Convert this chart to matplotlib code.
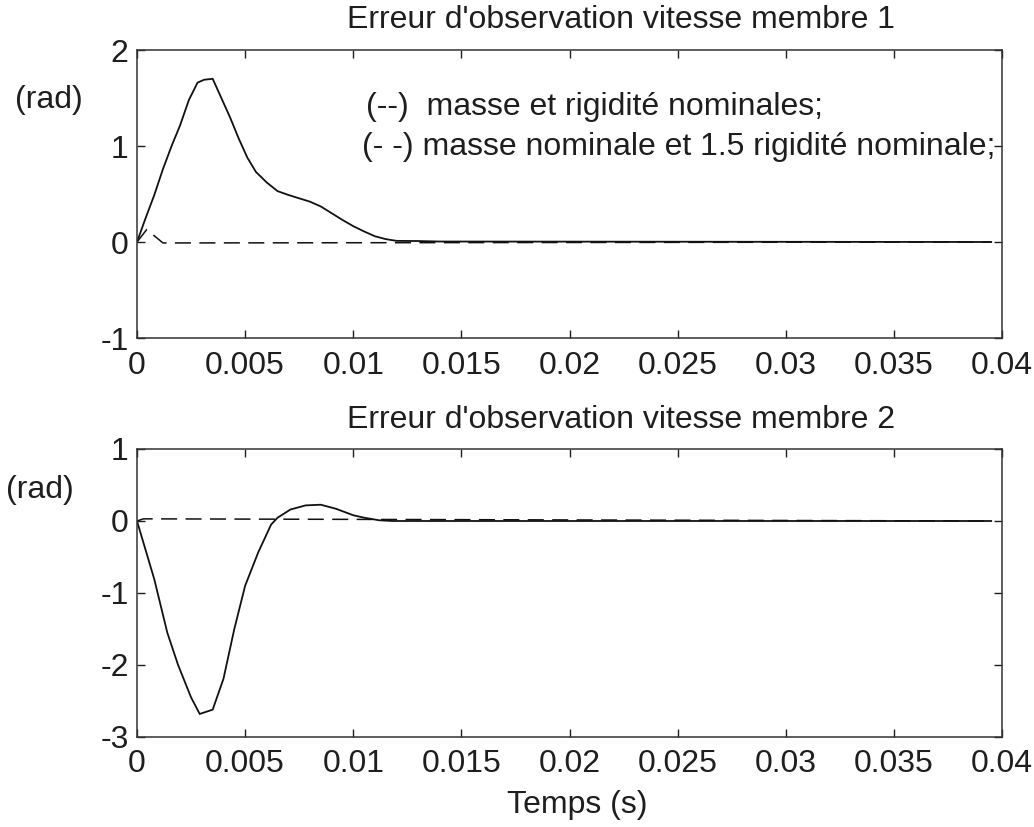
import matplotlib
matplotlib.use("Agg")
import matplotlib.pyplot as plt

plt.rcParams['font.family'] = ['Liberation Sans', 'DejaVu Sans']
plt.rcParams['axes.unicode_minus'] = False

# ---- data ----
t1_solid = [0, 0.0004, 0.0008, 0.0012, 0.0016, 0.002, 0.0024, 0.0028, 0.0031, 0.0035,
            0.0039, 0.0043, 0.0047, 0.0051, 0.0055, 0.006, 0.0065, 0.007, 0.0075, 0.008,
            0.0085, 0.009, 0.0095, 0.01, 0.0105, 0.011, 0.0115, 0.012, 0.013, 0.014, 0.0395]
v1_solid = [0, 0.25, 0.49, 0.76, 1.0, 1.22, 1.48, 1.66, 1.69, 1.70,
            1.50, 1.30, 1.08, 0.88, 0.73, 0.62, 0.53, 0.49, 0.455, 0.42,
            0.37, 0.30, 0.23, 0.165, 0.11, 0.06, 0.03, 0.012, 0.01, 0.005, 0]
t1_dash = [0, 0.00045, 0.0012, 0.0395]
v1_dash = [0, 0.13, -0.01, 0]

t2_solid = [0, 0.0008, 0.0014, 0.0019, 0.0025, 0.0029, 0.0035, 0.004, 0.0045, 0.005,
            0.0056, 0.0062, 0.0065, 0.0071, 0.0078, 0.0085, 0.0092, 0.01, 0.0105, 0.0112,
            0.0118, 0.0395]
v2_solid = [0, -0.81, -1.55, -2.0, -2.45, -2.68, -2.62, -2.19, -1.50, -0.90,
            -0.44, -0.05, 0.046, 0.16, 0.217, 0.226, 0.17, 0.08, 0.046, 0.01,
            0, 0]
t2_dash = [0, 0.0003, 0.0395]
v2_dash = [0, 0.03, 0]

xticks = [0, 0.005, 0.01, 0.015, 0.02, 0.025, 0.03, 0.035, 0.04]
xticklabels = ["0", "0.005", "0.01", "0.015", "0.02", "0.025", "0.03", "0.035", "0.04"]
yticks1 = [-1, 0, 1, 2]
yticks2 = [-3, -2, -1, 0, 1]

title1 = "Erreur d'observation vitesse membre 1"
title2 = "Erreur d'observation vitesse membre 2"
legend1 = "(--)  masse et rigidité nominales;"
legend2 = "(- -) masse nominale et 1.5 rigidité nominale;"

W, H = 1034, 827
fig = plt.figure(figsize=(W / 100, H / 100), dpi=100)

def px_axes(left, top, right, bottom):
    return fig.add_axes([left / W, 1 - bottom / H, (right - left) / W, (bottom - top) / H])

ax1 = px_axes(137, 50, 1002, 338)
ax2 = px_axes(137, 449, 1002, 737)

FS = 23
TC = '#1e1e1e'
dash = (0, (10.5, 5.5))
for ax, ts, vs, td, vd, yt, yl in [
        (ax1, t1_solid, v1_solid, t1_dash, v1_dash, yticks1, (-1, 2)),
        (ax2, t2_solid, v2_solid, t2_dash, v2_dash, yticks2, (-3, 1))]:
    ax.plot(ts, vs, color='#111111', lw=1.3, solid_joinstyle='miter')
    ax.plot(td, vd, color='#111111', lw=1.1, linestyle=dash)
    ax.set_xlim(0, 0.04)
    ax.set_ylim(*yl)
    ax.set_xticks(xticks)
    ax.set_xticklabels(xticklabels)
    ax.set_yticks(yt)
    ax.tick_params(direction='in', top=True, right=True, length=6, width=1,
                   labelsize=FS, colors=TC, pad=6)
    ax.tick_params(axis='x', pad=9)
    for s in ax.spines.values():
        s.set_linewidth(1.1)
        s.set_color('#333333')

fig.text(621 / W, 1 - 20 / H, title1, ha='center', va='center', fontsize=FS, color=TC)
fig.text(621 / W, 1 - 420 / H, title2, ha='center', va='center', fontsize=FS, color=TC)
fig.text(15 / W, 1 - 100 / H, "(rad)", ha='left', va='center', fontsize=FS, color=TC)
fig.text(6 / W, 1 - 490 / H, "(rad)", ha='left', va='center', fontsize=FS, color=TC)
fig.text(366 / W, 1 - 107 / H, legend1, ha='left', va='center', fontsize=FS, color=TC)
fig.text(362 / W, 1 - 147 / H, legend2, ha='left', va='center', fontsize=FS, color=TC)
fig.text(577 / W, 1 - 805 / H, "Temps (s)", ha='center', va='center', fontsize=FS, color=TC)

fig.savefig("out.png", dpi=100)
